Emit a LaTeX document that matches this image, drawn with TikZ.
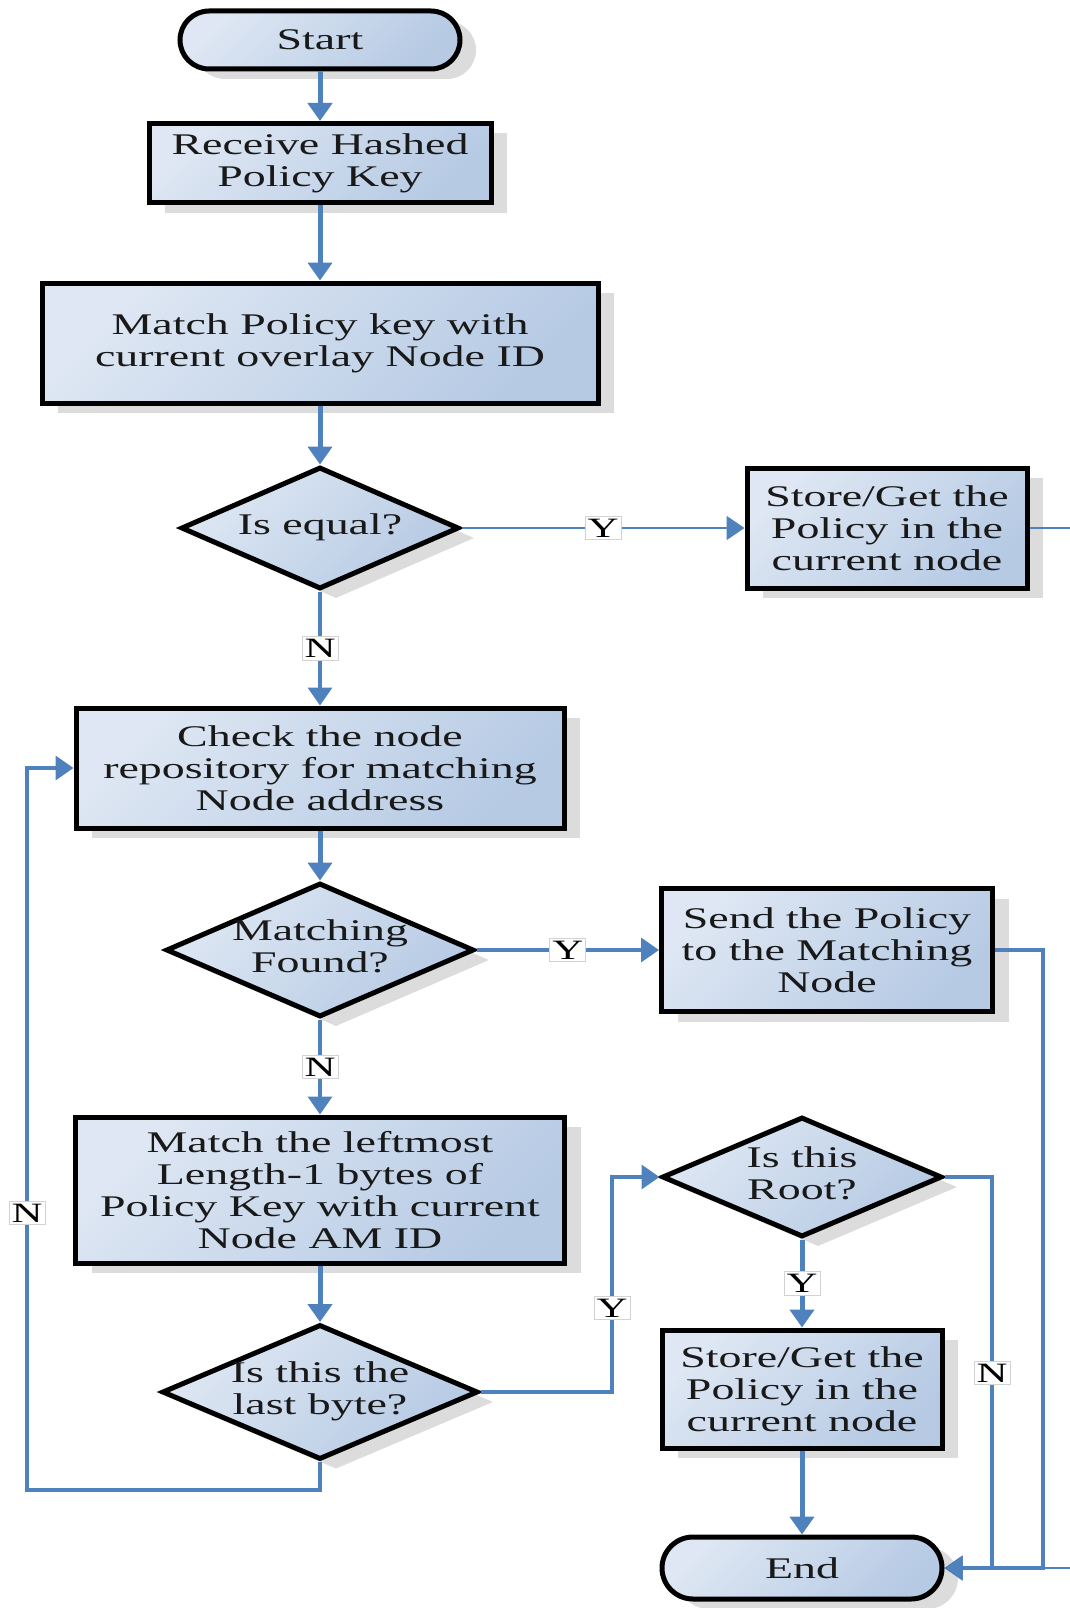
\documentclass[tikz,border=0pt]{standalone}
\usepackage{fontspec}
\setmainfont{Liberation Serif}
\newfontfamily\chartfont[FakeStretch=1.53]{Liberation Serif}
\usetikzlibrary{shapes.geometric, arrows.meta, shadows}

\definecolor{boxlight}{RGB}{222,231,243}
\definecolor{boxdark}{RGB}{182,202,228}
\definecolor{flowblue}{RGB}{79,129,189}
\definecolor{labelframe}{RGB}{210,210,210}
\definecolor{shadowgray}{RGB}{220,220,220}

% diamond captions take no width, so the diamond keeps its given size
\newcommand\dtext[1]{\makebox[0pt]{\begin{tabular}{@{}c@{}}#1\end{tabular}}}

\begin{document}
\begin{tikzpicture}[x=1pt, y=-1pt,
  chartshadow/.style={drop shadow={shadow xshift=16pt, shadow yshift=-10pt, fill=shadowgray, opacity=1}},
  base/.style={draw=black, line width=5pt, top color=boxlight, bottom color=boxdark,
    shading angle=45, chartshadow, align=center, inner sep=0pt, text=black!90,
    font=\chartfont\fontsize{30}{32}\selectfont},
  process/.style={base, rectangle},
  decision/.style={base, diamond, aspect=1},
  terminal/.style={base, rectangle, rounded corners=29pt},
  flowarrow/.style={draw=flowblue, line width=5pt, -{Triangle[length=18pt, width=24pt]}},
  branch/.style={flowarrow, line width=3.5pt},
  thinflow/.style={flowarrow, line width=2pt},
  lbl/.style={fill=white, draw=labelframe, line width=0.8pt, inner sep=2.5pt, text=black,
    font=\chartfont\fontsize{28}{28}\selectfont}
]
\useasboundingbox (0,0) rectangle (1070,1608);
\clip (0,0) rectangle (1070,1608);

% ---- main column ----
\node[terminal, minimum width=280pt, minimum height=58pt] (start) at (320,40) {Start};
\node[process, minimum width=342pt, minimum height=79pt] (recv) at (320,163)
  {Receive Hashed\\Policy Key};
\node[process, minimum width=556pt, minimum height=120pt] (match) at (320,343)
  {Match Policy key with\\current overlay Node ID};
\node[decision, minimum width=278pt, minimum height=122pt] (eq) at (320,528)
  {\dtext{Is equal?}};
\node[process, minimum width=280pt, minimum height=120pt] (store1) at (887,528)
  {Store/Get the\\Policy in the\\current node};
\node[process, minimum width=488pt, minimum height=120pt] (check) at (320,768)
  {Check the node\\repository for matching\\Node address};
\node[decision, minimum width=308pt, minimum height=134pt] (found) at (320,950)
  {\dtext{Matching\\Found?}};
\node[process, minimum width=331pt, minimum height=123pt] (send) at (827,950)
  {Send the Policy\\to the Matching\\Node};
\node[process, minimum width=489pt, minimum height=146pt] (lm) at (320,1190)
  {Match the leftmost\\Length-1 bytes of\\Policy Key with current\\Node AM ID};
\node[decision, minimum width=316pt, minimum height=135pt] (last) at (320,1392)
  {\dtext{Is this the\\last byte?}};

% ---- right column ----
\node[decision, minimum width=280pt, minimum height=120pt] (root) at (802,1177)
  {\dtext{Is this\\Root?}};
\node[process, minimum width=280pt, minimum height=118pt] (store2) at (802,1389)
  {Store/Get the\\Policy in the\\current node};
\node[terminal, minimum width=280pt, minimum height=62pt, rounded corners=31pt] (end) at (802,1568) {End};

% ---- connectors ----
\draw[flowarrow] (start) -- (recv);
\draw[flowarrow] (recv) -- (match);
\draw[flowarrow] (match) -- (eq);
\draw[thinflow] (eq) -- node[lbl] {Y} (store1);
\draw[branch] (eq) -- node[lbl] {N} (check);
\draw[flowarrow] (check) -- (found);
\draw[branch] (found) -- node[lbl] {Y} (send);
\draw[branch] (found) -- node[lbl] {N} (lm);
\draw[flowarrow] (lm) -- (last);

% loop back when the last byte is not reached
\draw[branch] (last.south) |- (27,1490) -- (27,1213) node[lbl] {N} |- (check.west);
% last byte reached: climb towards the root test
\draw[branch] (last.east) -| (612,1308) node[lbl] {Y} |- (root.west);

\draw[flowarrow] (root) -- node[lbl] {Y} (store2);
\draw[flowarrow] (store2) -- (end);
\draw[branch] (root.east) -| (992,1373) node[lbl] {N} |- (end.east);
\draw[branch] (send.east) -| (1043,1568) -- (end.east);
\draw[thinflow] (store1.east) -| (1100,1568) -- (end.east);
\end{tikzpicture}
\end{document}
